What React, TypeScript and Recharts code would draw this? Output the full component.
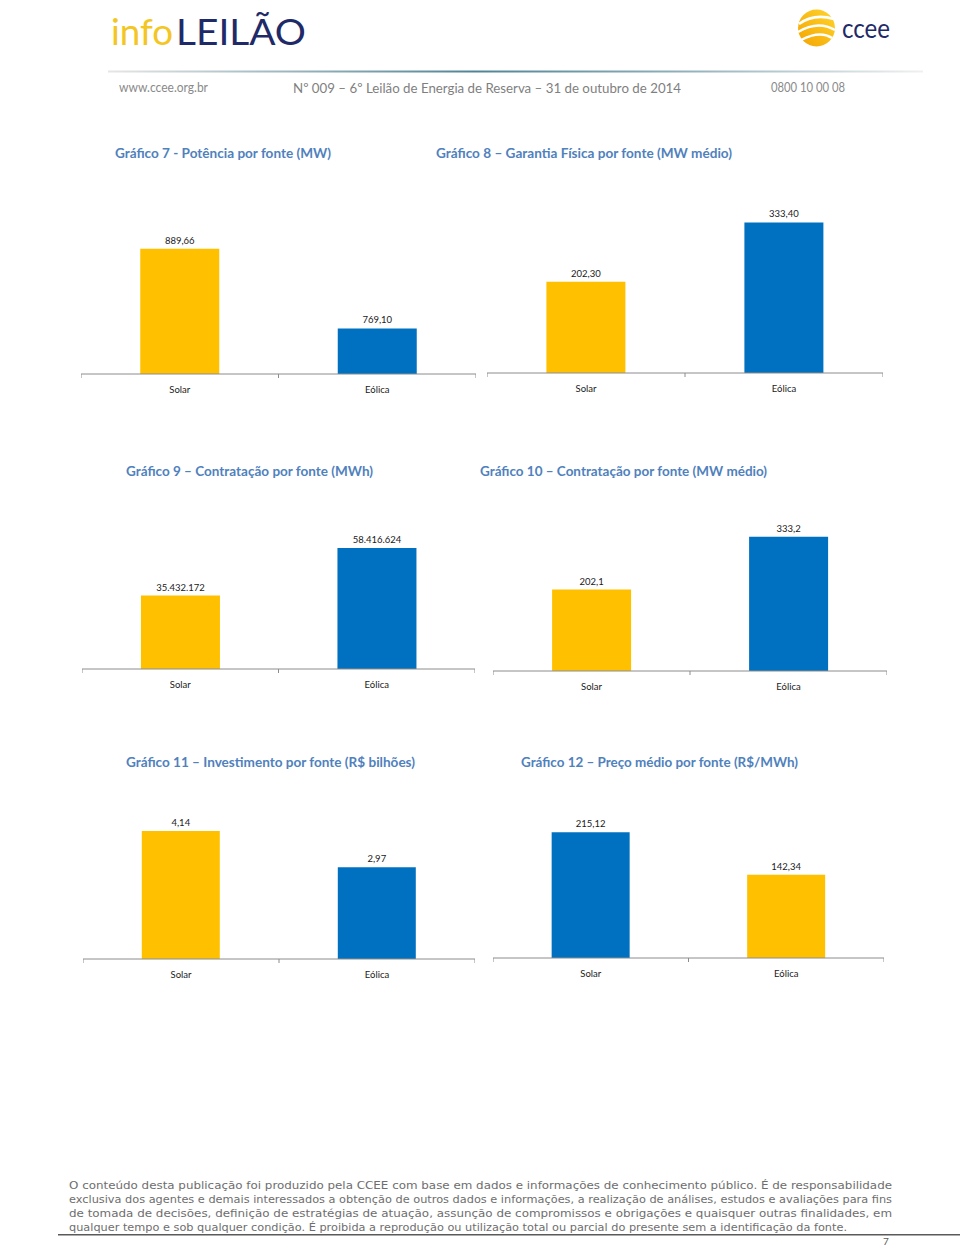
import React from 'react';
import { BarChart, Bar, XAxis, YAxis, Cell, LabelList } from 'recharts';

// ---------- data ----------
const categories = ['Solar', 'Eólica'];
const potenciaMW = [889.66, 769.1];
const garantiaFisicaMWmed = [202.3, 333.4];
const contratacaoMWh = [35432172, 58416624];
const contratacaoMWmed = [202.1, 333.2];
const investimentoBilhoes = [4.14, 2.97];
const precoMedioMWh = [215.12, 142.34];

const chartTitles = [
  'Gráfico 7 - Potência por fonte (MW)',
  'Gráfico 8 – Garantia Física por fonte (MW médio)',
  'Gráfico 9 – Contratação por fonte (MWh)',
  'Gráfico 10 – Contratação por fonte (MW médio)',
  'Gráfico 11 – Investimento por fonte (R$ bilhões)',
  'Gráfico 12 – Preço médio por fonte (R$/MWh)',
];

const footerLines = [
  'O conteúdo desta publicação foi produzido pela CCEE com base em dados e informações de conhecimento público. É de responsabilidade',
  'exclusiva dos agentes e demais interessados a obtenção de outros dados e informações, a realização de análises, estudos e avaliações para fins',
  'de tomada de decisões, definição de estratégias de atuação, assunção de compromissos e obrigações e quaisquer outras finalidades, em',
  'qualquer tempo e sob qualquer condição. É proibida a reprodução ou utilização total ou parcial do presente sem a identificação da fonte.',
];

const YELLOW = '#FFC000';
const BLUE = '#0070C0';
const TITLE_BLUE = '#4F81BD';
const FONT = "Lato, 'Open Sans', sans-serif";

function formatBR(v: number, decimals: number): string {
  const fixed = v.toFixed(decimals);
  const [intPart, dec] = fixed.split('.');
  const withSep = intPart.replace(/\B(?=(\d{3})+(?!\d))/g, '.');
  return dec ? withSep + ',' + dec : withSep;
}

type Cfg = {
  values: number[];
  colors: string[];
  decimals: number;
  domain: [number, number];
  left: number;
  right: number;
  baseline: number;
  plotH: number;
};

const charts: Cfg[] = [
  { values: potenciaMW, colors: [YELLOW, BLUE], decimals: 2, domain: [700, 950], left: 81, right: 476, baseline: 374, plotH: 165 },
  { values: garantiaFisicaMWmed, colors: [YELLOW, BLUE], decimals: 2, domain: [0, 350], left: 487, right: 883, baseline: 373, plotH: 158 },
  { values: contratacaoMWh, colors: [YELLOW, BLUE], decimals: 0, domain: [0, 70000000], left: 82, right: 475, baseline: 669, plotH: 145 },
  { values: contratacaoMWmed, colors: [YELLOW, BLUE], decimals: 1, domain: [0, 350], left: 493, right: 887, baseline: 671, plotH: 141 },
  { values: investimentoBilhoes, colors: [YELLOW, BLUE], decimals: 2, domain: [0, 4.5], left: 83, right: 475, baseline: 959, plotH: 139 },
  { values: precoMedioMWh, colors: [BLUE, YELLOW], decimals: 2, domain: [0, 250], left: 493, right: 884, baseline: 958, plotH: 146 },
];

const MT = 22;
const XH = 30;

function MiniBar({ cfg }: { cfg: Cfg }) {
  const W = cfg.right - cfg.left;
  const H = MT + cfg.plotH + XH;
  const rows = categories.map((c, i) => ({ cat: c, v: cfg.values[i] }));
  const step = W / categories.length;
  const renderTick = (props: any) => {
    const { x, y, payload, index } = props;
    const axisY = y - 8;
    const lines = [x - step / 2];
    if (index === categories.length - 1) lines.push(x + step / 2);
    return (
      <g>
        {lines.map((lx, k) => (
          <line key={k} x1={lx} x2={lx} y1={axisY} y2={axisY + 4} stroke="#8c8c8c" strokeWidth={1} />
        ))}
        <text x={x} y={axisY + 17} textAnchor="middle" dominantBaseline="middle" fontSize={9.5} fontFamily={FONT} fill="#1a1a1a">
          {payload.value}
        </text>
      </g>
    );
  };
  return (
    <div style={{ position: 'absolute', left: cfg.left, top: cfg.baseline - cfg.plotH - MT }}>
      <BarChart width={W} height={H} data={rows} margin={{ top: MT, right: 0, left: 0, bottom: 0 }} barCategoryGap="30%">
        <XAxis
          dataKey="cat"
          height={XH}
          interval={0}
          axisLine={{ stroke: '#8c8c8c', strokeWidth: 1 }}
          tickLine={false}
          tickSize={6}
          tickMargin={2}
          tick={renderTick}
        />
        <YAxis hide domain={cfg.domain} allowDataOverflow type="number" />
        <Bar dataKey="v" isAnimationActive={false}>
          {rows.map((r, i) => (
            <Cell key={r.cat} fill={cfg.colors[i]} />
          ))}
          <LabelList
            dataKey="v"
            position="top"
            offset={5}
            fontSize={9.5}
            fontFamily={FONT}
            fill="#1a1a1a"
            formatter={(val: any) => formatBR(Number(val), cfg.decimals)}
          />
        </Bar>
      </BarChart>
    </div>
  );
}

const titlePos = [
  { x: 115, y: 158, w: 216 },
  { x: 436, y: 158, w: 296 },
  { x: 126, y: 476, w: 247 },
  { x: 480, y: 476, w: 287 },
  { x: 126, y: 767, w: 289 },
  { x: 521, y: 767, w: 277 },
];

function Decorations() {
  return (
    <svg width={960} height={1249} style={{ position: 'absolute', left: 0, top: 0 }}>
      <defs>
        <linearGradient id="hdrLine" x1="0" x2="1" y1="0" y2="0">
          <stop offset="0" stopColor="#e6e6e6" />
          <stop offset="0.45" stopColor="#4f8496" />
          <stop offset="0.7" stopColor="#8fb0ba" />
          <stop offset="1" stopColor="#f0f0f0" />
        </linearGradient>
        <linearGradient id="sun" x1="0" x2="1" y1="1" y2="0">
          <stop offset="0" stopColor="#F4A300" />
          <stop offset="1" stopColor="#FFD52E" />
        </linearGradient>
      </defs>
      {/* logo infoLEILÃO */}
      <text x={111} y={45} fontSize={37} fontFamily={FONT} fill="#F3C623" textLength={62} lengthAdjust="spacingAndGlyphs">info</text>
      <text x={176} y={45} fontSize={37} fontFamily={FONT} fill="#1F2A68" textLength={130} lengthAdjust="spacingAndGlyphs">LEILÃO</text>
      {/* ccee logo */}
      <circle cx={816.5} cy={28} r={18.5} fill="url(#sun)" />
      <path d="M 799 24 Q 814 13 834 19" stroke="#fff" strokeWidth={2.6} fill="none" />
      <path d="M 798 32 Q 818 20 835 30" stroke="#fff" strokeWidth={2.6} fill="none" />
      <path d="M 801 40 Q 820 30 832 38" stroke="#fff" strokeWidth={2.4} fill="none" />
      <text x={842} y={38} fontSize={26} fontFamily={FONT} fill="#1F2A68" textLength={48} lengthAdjust="spacingAndGlyphs">ccee</text>
      {/* header line */}
      <rect x={108} y={70.5} width={815} height={2} fill="url(#hdrLine)" />
      <text x={119} y={92} fontSize={13} fontFamily={FONT} fill="#8a8a8a" textLength={89} lengthAdjust="spacingAndGlyphs">www.ccee.org.br</text>
      <text x={293} y={93} fontSize={14} fontFamily={FONT} fill="#7f7f7f" textLength={388} lengthAdjust="spacingAndGlyphs">Nº 009 – 6º Leilão de Energia de Reserva – 31 de outubro de 2014</text>
      <text x={771} y={92} fontSize={12.5} fontFamily={FONT} fill="#8a8a8a" textLength={74} lengthAdjust="spacingAndGlyphs">0800 10 00 08</text>
      {/* chart titles */}
      {chartTitles.map((t, i) => (
        <text key={t} x={titlePos[i].x} y={titlePos[i].y} fontSize={14} fontWeight={700} fontFamily={FONT} fill={TITLE_BLUE} textLength={titlePos[i].w} lengthAdjust="spacingAndGlyphs">
          {t}
        </text>
      ))}
      {/* footer */}
      {footerLines.map((l, i) => (
        <text key={i} x={69} y={1189 + i * 14} fontSize={11} fontFamily="'DejaVu Sans', Verdana, sans-serif" fill="#6e6e6e" textLength={i < 3 ? 823 : 778} lengthAdjust="spacingAndGlyphs">
          {l}
        </text>
      ))}
      <rect x={58} y={1234} width={902} height={1.5} fill="#5a5a5a" />
      <text x={883} y={1245} fontSize={10} fontFamily={FONT} fill="#5a5a5a">7</text>
    </svg>
  );
}

export default function App() {
  return (
    <div style={{ position: 'absolute', left: 0, top: 0, width: 960, height: 1249, background: '#fff', overflow: 'hidden' }}>
      <Decorations />
      {charts.map((c, i) => (
        <MiniBar key={i} cfg={c} />
      ))}
    </div>
  );
}
